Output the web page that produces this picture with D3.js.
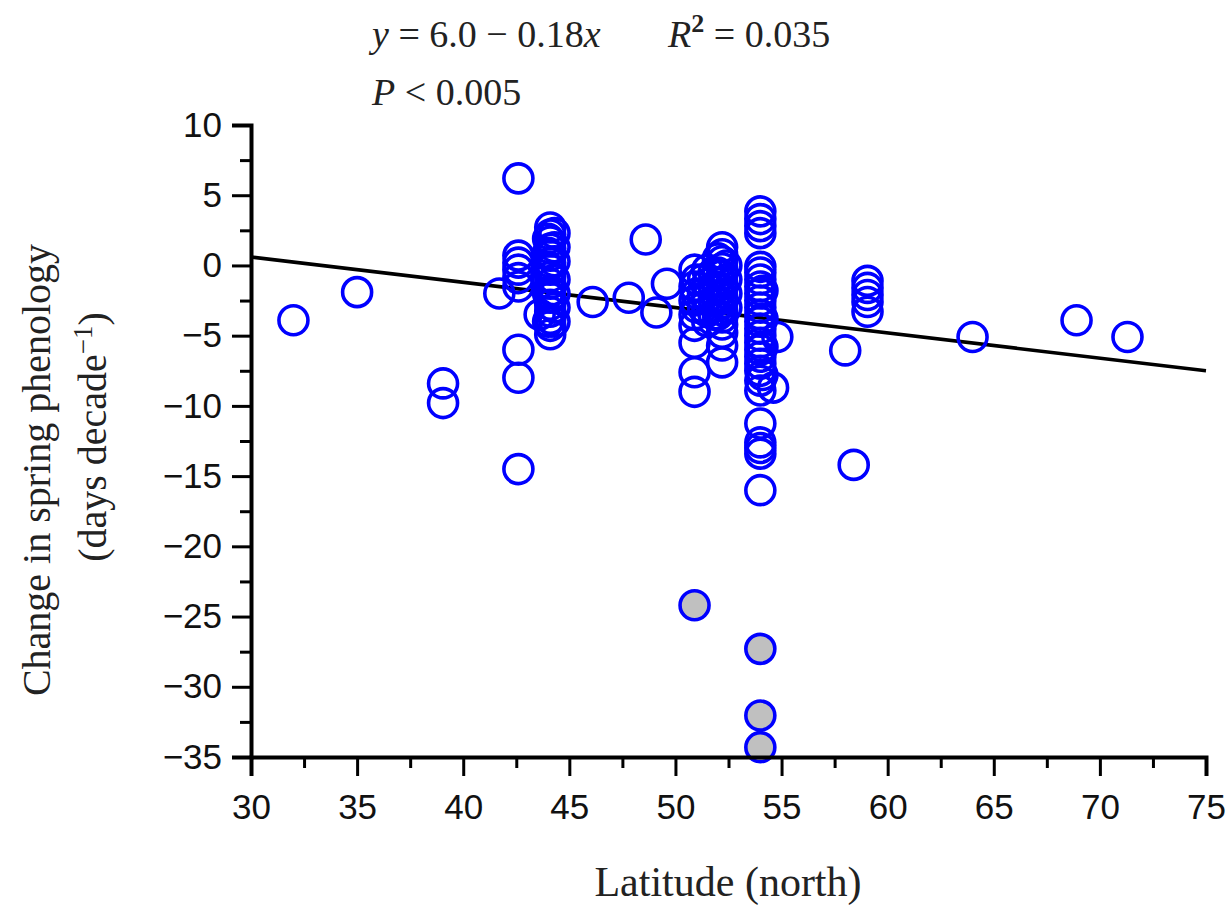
<!DOCTYPE html>
<html><head><meta charset="utf-8">
<script src="https://cdn.jsdelivr.net/npm/d3@7"></script>
<style>body{margin:0;background:#fff}svg{display:block}</style>
</head><body>
<svg id="c" width="1228" height="909"></svg>
<script>
// Open (blue) points: latitude, change in spring phenology
const openLat = [32.0,35.0,39.05,39.05,41.7,
 42.6,42.6,42.6,42.6,42.6,42.6,42.6,42.6,42.6,
 43.6,
 44.1,44.1,44.1,44.1,44.1,44.1,44.1,44.1,44.1,44.1,44.1,44.1,44.1,44.1,44.1,44.1,44.3,44.3,44.3,
 44.0,44.0,44.0,44.0,44.0,44.3,44.3,44.3,44.3,
 46.1,47.8,48.6,49.1,49.6,
 50.9,50.9,50.9,50.9,50.9,50.9,50.9,50.9,
 51.3,51.3,51.3,51.5,51.8,51.8,51.8,51.8,
 51.0,51.0,51.0,51.5,51.5,51.5,51.5,52.0,52.0,52.0,52.0,52.0,52.4,52.4,52.4,52.4,
 52.2,52.2,52.2,52.2,52.2,52.2,52.2,52.2,52.2,52.2,52.2,52.2,52.2,52.2,52.2,
 54.0,54.0,54.0,54.0,54.0,54.0,54.0,54.0,54.0,54.0,54.0,54.0,54.0,54.0,54.0,54.0,54.0,54.0,54.0,54.0,54.0,54.0,54.0,54.0,54.0,54.0,54.0,
 54.1,54.1,54.1,54.1,
 54.8,54.6,
 58.0,58.4,59.05,59.05,59.05,59.05,59.05,64.0,68.9,71.3];
const openChange = [-3.9,-1.9,-8.4,-9.8,-2.0,
 6.2,0.7,0.2,-0.3,-0.9,-1.5,-6.0,-8.0,-14.5,
 -3.5,
 2.7,2.2,1.7,1.2,0.7,0.2,-0.3,-0.8,-1.3,-1.8,-2.3,-2.8,-3.3,-3.8,-4.3,-4.9,2.3,-1.0,-3.0,
 1.9,0.9,-0.1,-2.0,-4.0,1.3,0.3,-2.0,-4.0,
 -2.6,-2.3,1.85,-3.35,-1.3,
 -0.3,-1.5,-2.5,-3.5,-4.3,-5.5,-7.6,-9.0,
 -1.0,-2.0,-3.0,-4.0,-0.5,-1.5,-2.5,-3.5,
 -1.0,-2.0,-3.0,-0.3,-1.3,-2.3,-3.3,0.5,-0.5,-1.5,-2.5,-3.5,0.0,-1.0,-2.0,-3.0,
 1.3,0.8,0.3,-0.2,-0.7,-1.2,-1.7,-2.2,-2.7,-3.2,-3.7,-4.2,-4.8,-5.7,-6.9,
 3.85,3.3,2.8,2.3,-0.1,-0.5,-1.0,-1.5,-2.0,-2.5,-3.0,-3.5,-4.0,-4.5,-5.0,-5.5,-6.0,-6.5,-7.0,-7.5,-8.2,-8.9,-11.25,-12.6,-13.0,-13.4,-16.0,
 -1.8,-3.8,-5.8,-7.8,
 -5.1,-8.7,
 -6.05,-14.2,-1.1,-1.6,-2.1,-2.6,-3.3,-5.1,-3.9,-5.1];
// Outliers (grey filled)
const outLat = [50.9,54.0,54.0,54.0];
const outChange = [-24.2,-27.3,-32.05,-34.3];
// Regression: y = 6.0 - 0.18x
const fitIntercept = 6.0, fitSlope = -0.18;
const xTicks = [30,35,40,45,50,55,60,65,70,75];
const yTicks = [10,5,0,-5,-10,-15,-20,-25,-30,-35];

const svg = d3.select("#c");
const x = d3.scaleLinear().domain([30,75]).range([251,1206]);
const y = d3.scaleLinear().domain([-35,10]).range([757,125]);

const tickFont = "'Liberation Sans', Arial, sans-serif";
const serif = "'Liberation Serif', 'Times New Roman', serif";

// regression line
svg.append("line")
  .attr("x1", x(30)).attr("y1", y(fitIntercept + fitSlope*30))
  .attr("x2", x(75)).attr("y2", y(fitIntercept + fitSlope*75))
  .attr("stroke","#000").attr("stroke-width",3.5);

// open points
const openPts = openLat.map((d,i)=>({lat:d, ch:openChange[i]}));
svg.append("g").selectAll("circle").data(openPts).join("circle")
  .attr("cx", d=>x(d.lat)).attr("cy", d=>y(d.ch)).attr("r",14.5)
  .attr("fill","none").attr("stroke","#0000ff").attr("stroke-width",3.6);
const outPts = outLat.map((d,i)=>({lat:d, ch:outChange[i]}));
svg.append("g").selectAll("circle").data(outPts).join("circle")
  .attr("cx", d=>x(d.lat)).attr("cy", d=>y(d.ch)).attr("r",14.5)
  .attr("fill","#c0c0c0").attr("stroke","#0000ff").attr("stroke-width",3.6);

// axes
const fmt = d => d < 0 ? "\u2212" + Math.abs(d) : String(d);
const xMinor = d3.range(32.5, 75, 5);
const yMinor = d3.range(-32.5, 10, 5);

const gx = svg.append("g").attr("transform","translate(0,757)");
gx.call(d3.axisBottom(x).tickValues(xMinor).tickSize(11).tickFormat(""));
gx.selectAll(".tick line").attr("stroke-width",3);
gx.select(".domain").remove();
const gx2 = svg.append("g").attr("transform","translate(0,757)");
gx2.call(d3.axisBottom(x).tickValues(xTicks).tickSize(19).tickPadding(18).tickFormat(fmt));
gx2.selectAll(".tick line").attr("stroke-width",3);
gx2.select(".domain").attr("stroke-width",4);
gx2.selectAll("text").attr("font-family",tickFont).attr("font-size",35).attr("fill","#111");

const gy = svg.append("g").attr("transform","translate(251,0)");
gy.call(d3.axisLeft(y).tickValues(yMinor).tickSize(11).tickFormat(""));
gy.selectAll(".tick line").attr("stroke-width",3);
gy.select(".domain").remove();
const gy2 = svg.append("g").attr("transform","translate(251,0)");
gy2.call(d3.axisLeft(y).tickValues(yTicks).tickSize(19).tickPadding(10).tickFormat(fmt));
gy2.selectAll(".tick line").attr("stroke-width",3);
gy2.select(".domain").attr("stroke-width",4);
gy2.selectAll("text").attr("font-family",tickFont).attr("font-size",35).attr("fill","#111");

// axis titles
svg.append("text").attr("x",728).attr("y",896).attr("text-anchor","middle")
  .attr("font-family",serif).attr("font-size",42).attr("fill","#222").text("Latitude (north)");
const yt = svg.append("text").attr("transform","translate(50,470) rotate(-90)")
  .attr("text-anchor","middle").attr("font-family",serif).attr("font-size",40).attr("fill","#222");
yt.append("tspan").attr("x",0).attr("y",0).text("Change in spring phenology");
const yt2 = svg.append("text").attr("transform","translate(106,437) rotate(-90)")
  .attr("text-anchor","middle").attr("font-family",serif).attr("font-size",40).attr("fill","#222");
yt2.append("tspan").text("(days decade");
yt2.append("tspan").attr("font-size",27).attr("dy",-14).text("\u22121");
yt2.append("tspan").attr("dy",14).text(")");

// equation annotations
const eq = svg.append("text").attr("x",372).attr("y",47)
  .attr("font-family",serif).attr("font-size",38).attr("fill","#222");
eq.append("tspan").attr("font-style","italic").text("y");
eq.append("tspan").text(" = 6.0 \u2212 0.18");
eq.append("tspan").attr("font-style","italic").text("x");
const r2 = svg.append("text").attr("x",668).attr("y",47)
  .attr("font-family",serif).attr("font-size",38).attr("fill","#222");
r2.append("tspan").attr("font-style","italic").text("R");
r2.append("tspan").attr("font-size",26).attr("font-weight","bold").attr("dy",-15).text("2");
r2.append("tspan").attr("dy",15).text(" = 0.035");
const p = svg.append("text").attr("x",372).attr("y",105)
  .attr("font-family",serif).attr("font-size",38).attr("fill","#222");
p.append("tspan").attr("font-style","italic").text("P");
p.append("tspan").text(" < 0.005");
</script>
</body></html>
